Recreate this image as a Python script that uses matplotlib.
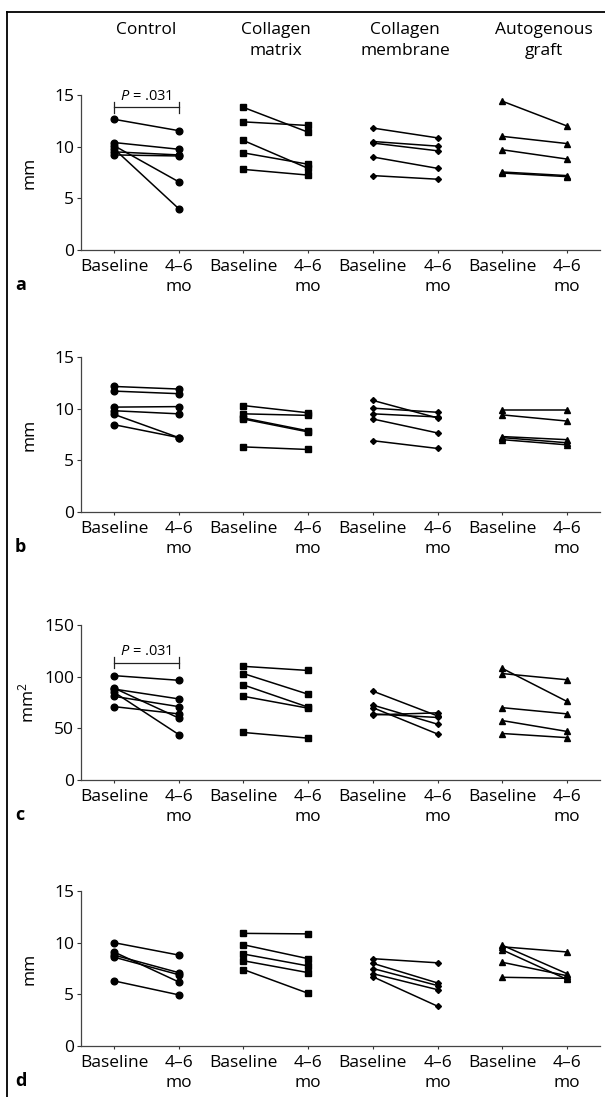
import matplotlib
matplotlib.use("Agg")
import matplotlib.pyplot as plt
from matplotlib.lines import Line2D
from matplotlib.transforms import blended_transform_factory

plt.rcParams['font.family'] = ['Open Sans', 'DejaVu Sans']
plt.rcParams['mathtext.fontset'] = 'custom'
plt.rcParams['mathtext.rm'] = 'Open Sans'
plt.rcParams['mathtext.it'] = 'Open Sans:italic'

# groups and tick labels
groups = ['Control', 'Collagen\nmatrix', 'Collagen\nmembrane', 'Autogenous\ngraft']
time_labels = ['Baseline', '4\u20136\nmo']
panel_letters = ['a', 'b', 'c', 'd']
panel_ylabels = ['mm', 'mm', 'mm$^2$', 'mm']

# panel a: baseline and 4-6 mo values per group (one entry per subject)
a_base = [[12.65, 10.4, 9.5, 9.2, 10.1, 9.8],
          [13.8, 12.4, 10.6, 9.4, 7.8],
          [11.8, 10.5, 10.35, 9.0, 7.2],
          [14.4, 11.0, 9.7, 7.55, 7.45]]
a_post = [[11.55, 9.75, 9.2, 9.1, 6.6, 4.0],
          [11.4, 12.05, 7.9, 8.3, 7.25],
          [10.85, 10.05, 9.6, 7.9, 6.85],
          [12.0, 10.3, 8.8, 7.2, 7.1]]

# panel b
b_base = [[12.15, 11.7, 10.15, 9.8, 9.45, 8.45],
          [10.3, 9.5, 9.1, 9.0, 6.3],
          [10.8, 10.05, 9.5, 9.0, 6.9],
          [9.9, 9.4, 7.3, 7.2, 7.0]]
b_post = [[11.9, 11.45, 10.2, 9.5, 7.2, 7.2],
          [9.6, 9.35, 7.85, 7.75, 6.05],
          [9.1, 9.65, 9.2, 7.65, 6.15],
          [9.9, 8.8, 7.0, 6.7, 6.5]]

# panel c
c_base = [[101, 88, 81, 89, 85, 71],
          [110, 103, 92, 81, 46],
          [86, 72.5, 70, 63, 64],
          [108, 103, 70, 57.5, 45]]
c_post = [[96.5, 78.5, 71, 60, 44, 64],
          [106, 83, 70.5, 69.5, 40.5],
          [62, 54, 44.5, 65, 60.5],
          [76, 97, 64, 47, 41]]

# panel d
d_base = [[10.0, 9.1, 8.8, 8.6, 6.3],
          [10.9, 9.8, 8.9, 8.25, 7.4],
          [8.45, 8.0, 7.5, 7.0, 6.7],
          [9.6, 9.75, 9.3, 8.1, 6.65]]
d_post = [[8.8, 6.2, 7.1, 6.9, 4.95],
          [10.85, 8.45, 7.75, 7.1, 5.1],
          [8.05, 6.1, 5.85, 5.45, 3.85],
          [9.1, 7.0, 6.45, 6.8, 6.55]]

panel_base = [a_base, b_base, c_base, d_base]
panel_post = [a_post, b_post, c_post, d_post]
panel_ymax = [15, 15, 150, 15]
panel_yticks = [[0, 5, 10, 15], [0, 5, 10, 15], [0, 50, 100, 150], [0, 5, 10, 15]]

# significance brackets: (panel index, bracket y, label)
brackets = [(0, 13.8, '$P$ = .031'), (2, 113.5, '$P$ = .031')]

group_markers = ['o', 's', 'D', '^']
group_msize = [4.8, 4.8, 3.0, 4.0]

W, H = 605, 1097
fig = plt.figure(figsize=(W / 100, H / 100), dpi=100)

ax_left = 81 / W
ax_width = (600 - 81) / W
ax_h = 155 / H
# pixel row of the zero line for each panel
zero_rows = [250, 512, 780, 1046]

fs = 12.5
axes = []
for p in range(4):
    bottom = 1 - zero_rows[p] / H
    ax = fig.add_axes([ax_left, bottom, ax_width, ax_h])
    axes.append(ax)
    for g in range(4):
        x0 = 2 * g
        for yb, yp in zip(panel_base[p][g], panel_post[p][g]):
            ax.plot([x0, x0 + 1], [yb, yp], color='black', lw=1.1,
                    marker=group_markers[g], ms=group_msize[g],
                    mfc='black', mec='black', clip_on=False, zorder=3)
    ax.set_xlim(-0.51, 7.51)
    ax.set_ylim(0, panel_ymax[p])
    ax.set_xticks(range(8))
    ax.set_xticklabels(time_labels * 4, fontsize=fs, linespacing=1.3)
    ax.set_yticks(panel_yticks[p])
    ax.set_yticklabels([str(t) for t in panel_yticks[p]], fontsize=fs)
    ax.tick_params(axis='x', length=2.5, width=0.8, pad=4, colors='#333333', labelcolor='black')
    ax.tick_params(axis='y', length=3, width=0.8, pad=2, colors='#333333', labelcolor='black')
    for s in ['top', 'right']:
        ax.spines[s].set_visible(False)
    for s in ['left', 'bottom']:
        ax.spines[s].set_linewidth(0.9)
        ax.spines[s].set_color('#444444')
    ax.set_ylabel(panel_ylabels[p], fontsize=fs)
    ax.yaxis.set_label_coords((37.5 - 81) / (600 - 81), 0.5)
    ax.patch.set_visible(False)
    fig.text(15 / W, 1 - (zero_rows[p] + 35) / H, panel_letters[p],
             fontsize=13, fontweight='bold', va='center', ha='left')

for p, yb, label in brackets:
    ax = axes[p]
    span = panel_ymax[p] * 0.035
    ax.plot([0, 1], [yb, yb], color='#222222', lw=0.9, clip_on=False)
    ax.plot([0, 0], [yb - span, yb + span], color='#222222', lw=0.9, clip_on=False)
    ax.plot([1, 1], [yb - span, yb + span], color='#222222', lw=0.9, clip_on=False)
    ax.text(0.5, yb + panel_ymax[p] * 0.025, label, ha='center', va='bottom', fontsize=10.5)

# group titles above the first panel
title_x = [0.5, 2.5, 4.5, 6.65]
tr = blended_transform_factory(axes[0].transData, fig.transFigure)
for g in range(4):
    axes[0].text(title_x[g], 1 - 22 / H, groups[g], transform=tr, ha='center', va='top',
                 fontsize=fs, linespacing=1.4)

# outer frame (top and left edges)
fig.add_artist(Line2D([7 / W, 1], [1 - 12 / H, 1 - 12 / H], transform=fig.transFigure,
                      color='black', lw=1.3))
fig.add_artist(Line2D([7 / W, 7 / W], [0, 1 - 12 / H], transform=fig.transFigure,
                      color='black', lw=1.3))

fig.savefig('out.png', dpi=100)
